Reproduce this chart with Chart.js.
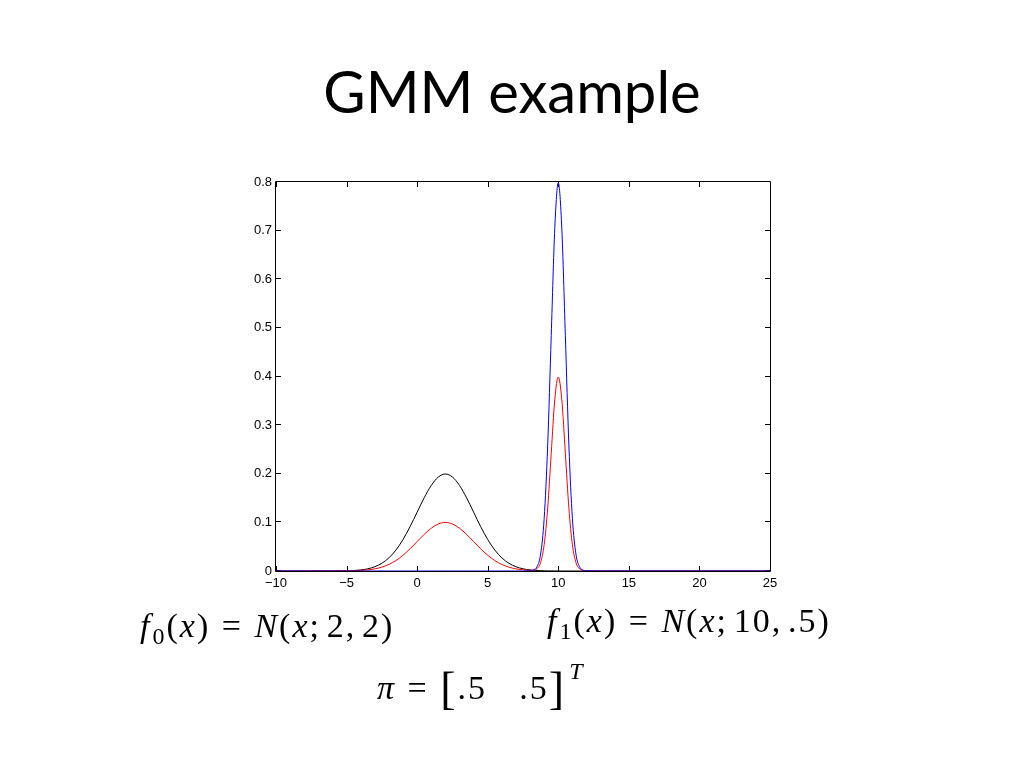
<!DOCTYPE html>
<html>
<head>
<meta charset="utf-8">
<script src="https://cdn.jsdelivr.net/npm/chart.js@4.4.1/dist/chart.umd.min.js"></script>
<style>
  body { margin: 0; background: #fff; }
  #wrap { position: relative; width: 1024px; height: 768px; overflow: hidden; }
  #chart { position: absolute; left: 0; top: 0; }
  .title { position: absolute; left: 0; width: 1024px; top: 62px; text-align: center;
           font: 58px Lato, "Open Sans", sans-serif; color: #000; line-height: 1; }
  .math { position: absolute; font: 34px "Liberation Serif", serif; color: #000;
          line-height: 1; white-space: pre; letter-spacing: 2px; }
  .math i { font-style: italic; }
  .math sub { font-size: 24px; vertical-align: -7px; line-height: 0; margin-left: 1px; }
  .math sup { font-size: 24px; vertical-align: 20px; line-height: 0; margin-left: 3px; }
  .eq { display: inline-block; width: 0.78em; text-align: center; margin: 0 0.26em; }
  .th { display: inline-block; width: 0.17em; }
  .gap { display: inline-block; width: 0.95em; }
  .br { font-size: 46px; vertical-align: -5px; }
</style>
</head>
<body>
<div id="wrap">
  <canvas id="chart" width="1024" height="768"></canvas>
  <div class="title">GMM example</div>
  <div class="math" style="left:140px; top:609px;"><i>f</i><sub>0</sub>(<i>x</i>)<span class="eq">=</span><i>N</i>(<i>x</i>;<span class="th"></span>2,<span class="th"></span>2)</div>
  <div class="math" style="left:547px; top:604px;"><i>f</i><sub>1</sub>(<i>x</i>)<span class="eq">=</span><i>N</i>(<i>x</i>;<span class="th"></span>10,<span class="th"></span>.5)</div>
  <div class="math" style="left:377px; top:666px;"><i>π</i><span class="eq">=</span><span class="br">[</span>.5<span class="gap"></span>.5<span class="br">]</span><sup><i>T</i></sup></div>
</div>
<script>
// sample positions along x
const xValues = [-10, -8, -6, -5, -4.5, -4, -3.5, -3, -2.5, -2, -1.5, -1, -0.5, 0, 0.5, 1, 1.5, 2, 2.5, 3,
  3.5, 4, 4.5, 5, 5.5, 6, 6.5, 7, 7.5, 8, 8.25, 8.5, 8.75, 9, 9.25, 9.5, 9.75, 10, 10.25, 10.5,
  10.75, 11, 11.25, 11.5, 11.75, 12, 13, 15, 20, 25];

// black: f0
const f0Values = [0, 0, 0.0001, 0.0004, 0.001, 0.0022, 0.0045, 0.0088, 0.0159, 0.027, 0.0432, 0.0648, 0.0913, 0.121, 0.1506, 0.176, 0.1933, 0.1995, 0.1933, 0.176,
  0.1506, 0.121, 0.0913, 0.0648, 0.0432, 0.027, 0.0159, 0.0088, 0.0045, 0.0022, 0.0015, 0.001, 0.0007, 0.0004, 0.0003, 0.0002, 0.0001, 0.0001, 0, 0,
  0, 0, 0, 0, 0, 0, 0, 0, 0, 0];

// blue: f1
const f1Values = [0, 0, 0, 0, 0, 0, 0, 0, 0, 0, 0, 0, 0, 0, 0, 0, 0, 0, 0, 0,
  0, 0, 0, 0, 0, 0, 0, 0, 0, 0.0003, 0.0018, 0.0089, 0.035, 0.108, 0.259, 0.484, 0.704, 0.798, 0.704, 0.484,
  0.259, 0.108, 0.035, 0.0089, 0.0018, 0.0003, 0, 0, 0, 0];

// red: weighted mixture
const mixValues = [0, 0, 0.00005, 0.0002, 0.0005, 0.0011, 0.0023, 0.0044, 0.008, 0.0135, 0.0216, 0.0324, 0.0457, 0.0605, 0.0753, 0.088, 0.0967, 0.0998, 0.0967, 0.088,
  0.0753, 0.0605, 0.0457, 0.0324, 0.0216, 0.0135, 0.008, 0.0044, 0.0023, 0.0012, 0.0016, 0.005, 0.0178, 0.0542, 0.1296, 0.2421, 0.352, 0.399, 0.352, 0.242,
  0.1295, 0.054, 0.0175, 0.0045, 0.0009, 0.0002, 0, 0, 0, 0];

const xMin = -10, xMax = 25, xStep = 5;
const yMin = 0, yMax = 0.8, yStep = 0.1;

const toPoints = (ys) => xValues.map((x, i) => ({ x: x, y: ys[i] }));

// box frame with inward ticks on all four sides (drawn under the curves)
const boxPlugin = {
    id: 'box',
    beforeDatasetsDraw(chart) {
        const { ctx, chartArea: a, scales } = chart;
        const len = 5;
        ctx.save();
        ctx.strokeStyle = '#000';
        ctx.lineWidth = 1;
        ctx.beginPath();
        ctx.rect(a.left - 0.5, a.top - 0.5, a.right - a.left + 1, a.bottom - a.top + 1);
        scales.x.ticks.forEach(t => {
            const px = Math.round(scales.x.getPixelForValue(t.value)) + 0.5;
            ctx.moveTo(px, a.bottom); ctx.lineTo(px, a.bottom - len);
            ctx.moveTo(px, a.top); ctx.lineTo(px, a.top + len);
        });
        scales.y.ticks.forEach(t => {
            const py = Math.round(scales.y.getPixelForValue(t.value)) - 0.5;
            ctx.moveTo(a.left, py); ctx.lineTo(a.left + len, py);
            ctx.moveTo(a.right, py); ctx.lineTo(a.right - len, py);
        });
        ctx.stroke();
        ctx.restore();
    }
};

const tickFont = { family: '"Liberation Sans", Arial, sans-serif', size: 13 };

new Chart(document.getElementById('chart'), {
    type: 'line',
    data: {
        datasets: [
            { label: 'f1', data: toPoints(f1Values), borderColor: '#0000ff' },
            { label: 'mix', data: toPoints(mixValues), borderColor: '#ff0000' },
            { label: 'f0', data: toPoints(f0Values), borderColor: '#000000' }
        ]
    },
    options: {
        responsive: false,
        animation: false,
        parsing: false,
        datasets: {
            line: {
                borderWidth: 1,
                pointRadius: 0,
                fill: false,
                cubicInterpolationMode: 'monotone'
            }
        },
        layout: { padding: { left: 246, right: 254, top: 182, bottom: 167 } },
        plugins: { legend: { display: false }, tooltip: { enabled: false } },
        scales: {
            x: {
                type: 'linear',
                min: xMin, max: xMax,
                grid: { display: false, drawTicks: false, tickLength: 0 },
                border: { display: false },
                afterFit: (s) => { s.height = 30; },
                ticks: {
                    stepSize: xStep,
                    color: '#000',
                    font: tickFont,
                    padding: 5,
                    maxRotation: 0,
                    callback: (v) => String(v).replace('-', '\u2212')
                }
            },
            y: {
                type: 'linear',
                min: yMin, max: yMax,
                grid: { display: false, drawTicks: false, tickLength: 0 },
                border: { display: false },
                afterFit: (s) => { s.width = 30; },
                ticks: {
                    stepSize: yStep,
                    color: '#000',
                    font: tickFont,
                    padding: 4,
                    callback: (v) => v === 0 ? '0' : v.toFixed(1)
                }
            }
        }
    },
    plugins: [boxPlugin]
});
</script>
</body>
</html>
